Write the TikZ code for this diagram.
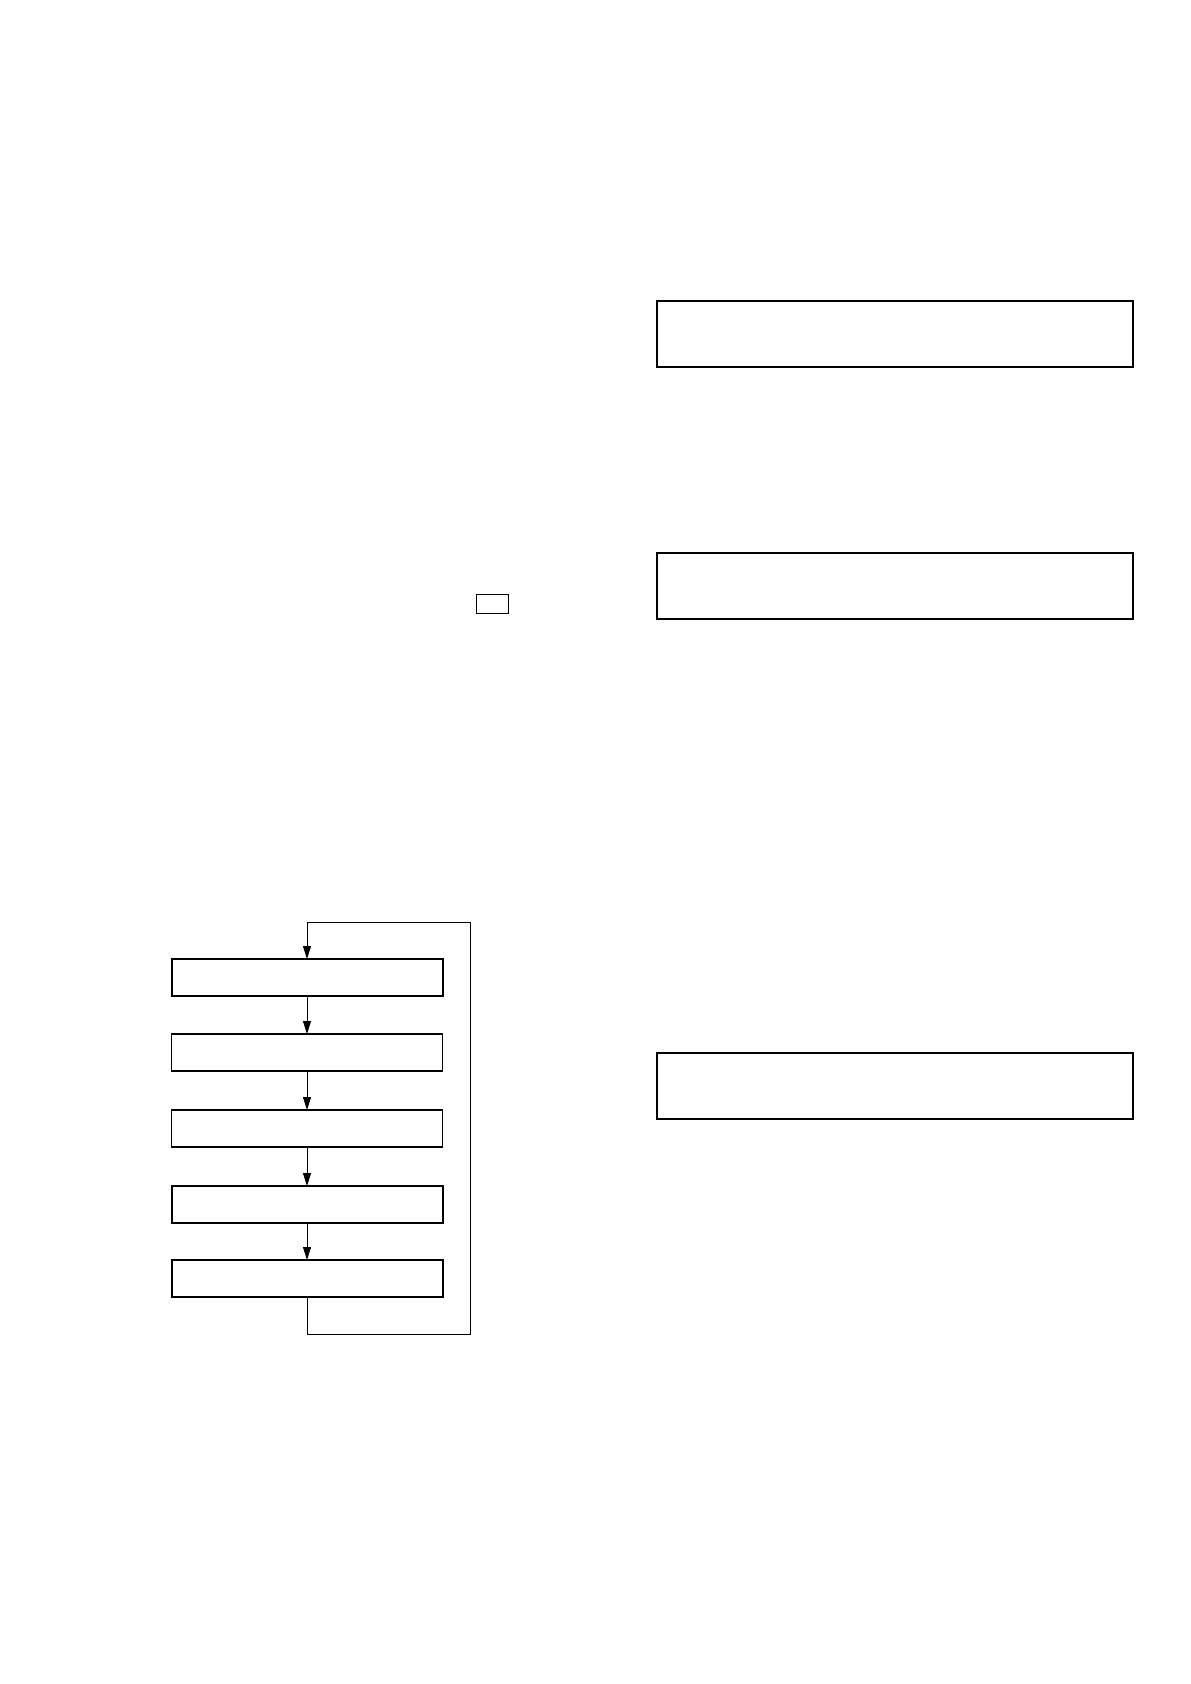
\documentclass[tikz,border=0pt]{standalone}
\usepackage{tikz}
\usetikzlibrary{arrows.meta,positioning}

\begin{document}
\begin{tikzpicture}[x=0.5pt,y=-0.5pt,>={Triangle[length=6.5pt,width=4pt]},line width=0.5pt]
\tikzstyle{every node}=[inner sep=0pt,outer sep=0pt]
\tikzstyle{bigbox}=[draw,line width=1pt,minimum width=238pt,minimum height=33pt]
\tikzstyle{stepbox}=[draw,line width=1pt,minimum width=135.5pt,minimum height=18.5pt]
\tikzstyle{thinbox}=[stepbox,line width=0.6pt]

\useasboundingbox (0,0) rectangle (1190,1684);

% right column
\node[bigbox]   (R1) at (895,334)   {};
\node[bigbox]   (R2) at (895,585.5) {};
\node[bigbox]   (R3) at (895,1085.5) {};
\node[draw,minimum width=16pt,minimum height=9.5pt] (K) at (492,603.5) {};

% loop of steps
\node[stepbox]  (A) at (307,977.5) {};
\node[thinbox]  (B) [below=19pt of A] {};
\node[thinbox]  (C) [below=19.5pt of B] {};
\node[stepbox]  (D) [below=19.5pt of C] {};
\node[stepbox]  (E) [below=18.5pt of D] {};

\coordinate (Eb) at (307,1334);
\coordinate (Rb) at (470,1334);
\coordinate (Rt) at (470,922);
\coordinate (At) at (307,922);

\draw[->] (A) -- (B);
\draw[->] (B) -- (C);
\draw[->] (C) -- (D);
\draw[->] (D) -- (E);
\draw[->] (E) -- (Eb) -- (Rb) -- (Rt) -- (At) -- (A);
\end{tikzpicture}
\end{document}
